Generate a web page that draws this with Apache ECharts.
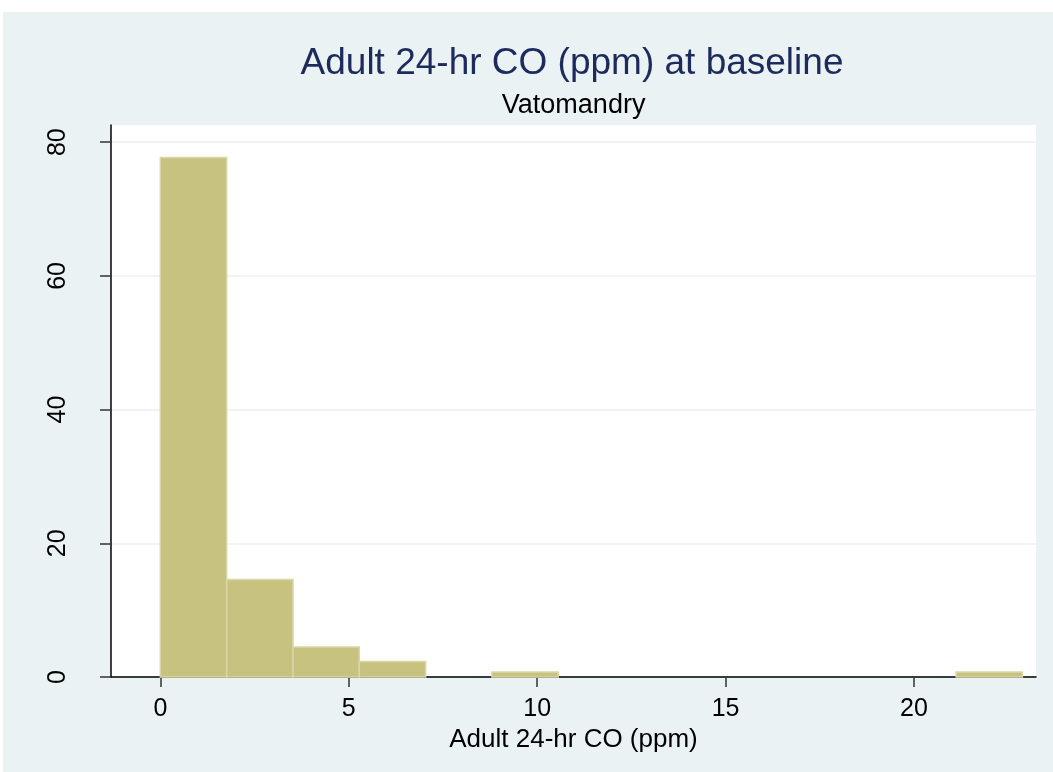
<!DOCTYPE html>
<html>
<head>
<meta charset="utf-8">
<script src="https://cdn.jsdelivr.net/npm/echarts@6/dist/echarts.min.js"></script>
<style>
  html, body { margin: 0; padding: 0; background: #ffffff; }
  #bg { position: absolute; left: 3px; top: 12px; width: 1050px; height: 760px; background: #EAF2F3; }
  #chart { position: absolute; left: 0; top: 0; width: 1053px; height: 772px; }
</style>
</head>
<body>
<div id="bg"></div>
<div id="chart"></div>
<script>
// Histogram bins (ppm) and percent of observations
const binStarts = [0, 1.76, 3.52, 5.28, 7.04, 8.80, 10.56, 12.32, 14.08, 15.84, 17.60, 19.36, 21.12];
const binEnds   = [1.76, 3.52, 5.28, 7.04, 8.80, 10.56, 12.32, 14.08, 15.84, 17.60, 19.36, 21.12, 22.88];
const percents  = [77.7, 14.6, 4.5, 2.3, 0, 0.75, 0, 0, 0, 0, 0, 0, 0.75];
const xTicks = [0, 5, 10, 15, 20];
const yTicks = [0, 20, 40, 60, 80];
const titleText = 'Adult 24-hr CO (ppm) at baseline';
const subtitleText = 'Vatomandry';
const xAxisTitle = 'Adult 24-hr CO (ppm)';

const data = [];
for (let i = 0; i < percents.length; i++) {
  if (percents[i] > 0) data.push([binStarts[i], binEnds[i], percents[i]]);
}

const chart = echarts.init(document.getElementById('chart'), null, { renderer: 'canvas' });
const FONT = "'Liberation Sans', Arial, Helvetica, sans-serif";
chart.setOption({
  backgroundColor: 'transparent',
  animation: false,
  title: [
    { text: titleText, left: 572, top: 45, padding: 0, textAlign: 'center',
      textStyle: { fontFamily: FONT, fontSize: 37, fontWeight: 'normal', color: '#1C2B5B' } },
    { text: subtitleText, left: 573.6, top: 92, padding: 0, textAlign: 'center',
      textStyle: { fontFamily: FONT, fontSize: 27, fontWeight: 'normal', color: '#000000' } }
  ],
  grid: { left: 111, right: 17, top: 125, bottom: 95, show: true, backgroundColor: '#ffffff', borderWidth: 0, containLabel: false },
  xAxis: {
    type: 'value', min: -1.31, max: 23.24,
    name: xAxisTitle, nameLocation: 'middle', nameGap: 43,
    nameTextStyle: { fontFamily: FONT, fontSize: 26, color: '#000000' },
    axisLine: { show: true, onZero: false, lineStyle: { color: '#000000', width: 1.5 } },
    axisTick: { show: true, length: 10, customValues: xTicks, lineStyle: { color: '#333333', width: 1.5 } },
    axisLabel: { show: true, customValues: xTicks, margin: 20, fontFamily: FONT, fontSize: 25, color: '#000000' },
    splitLine: { show: false }
  },
  yAxis: {
    type: 'value', min: 0, max: 82.57, interval: 20,
    axisLine: { show: true, onZero: false, lineStyle: { color: '#000000', width: 1.5 } },
    axisTick: { show: true, length: 11, customValues: yTicks, lineStyle: { color: '#333333', width: 1.5 } },
    axisLabel: { show: true, customValues: yTicks, rotate: 90, margin: 40, fontFamily: FONT, fontSize: 25, color: '#000000' },
    splitLine: { show: true, lineStyle: { color: '#EAF2F3', width: 1.5 } }
  },
  series: [{
    type: 'custom',
    data: data,
    encode: { x: [0, 1], y: 2 },
    renderItem: function (params, api) {
      const p0 = api.coord([api.value(0), api.value(2)]);
      const p1 = api.coord([api.value(1), 0]);
      return {
        type: 'rect',
        shape: { x: p0[0], y: p0[1], width: p1[0] - p0[0], height: p1[1] - p0[1] },
        style: { fill: '#C8C280', stroke: '#DBD6A6', lineWidth: 1.5 }
      };
    }
  }]
});
</script>
</body>
</html>
